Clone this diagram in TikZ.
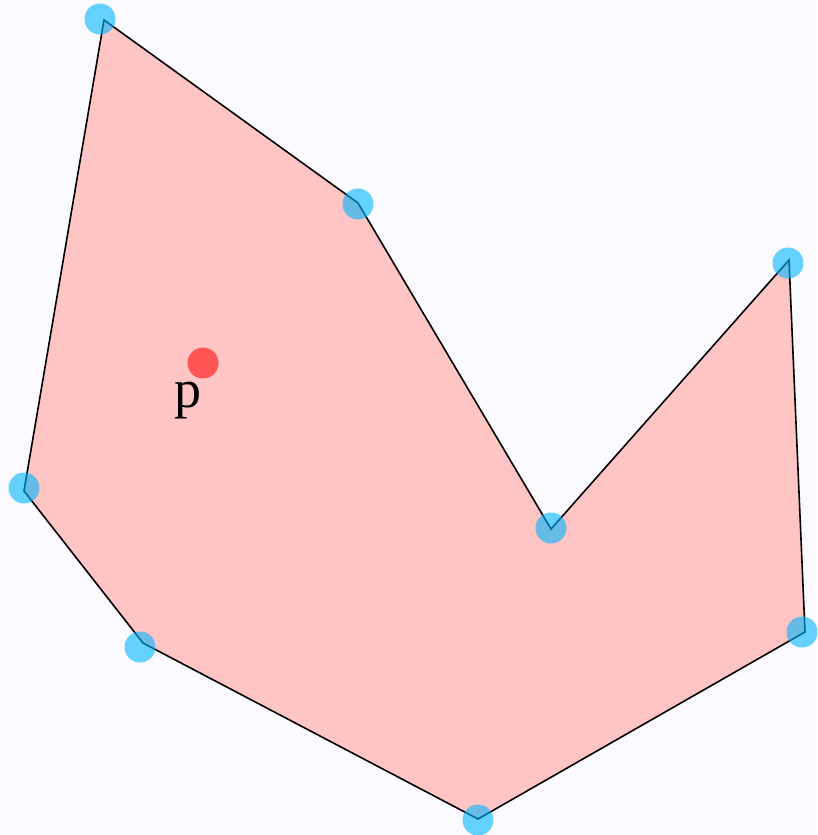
\documentclass[tikz,border=0pt]{standalone}
\usepackage{fontspec}
\usepackage{tikz}
\usetikzlibrary{positioning}
\newfontfamily\labelfont{Liberation Serif}
\definecolor{bgcol}{RGB}{251,251,255}
\definecolor{regioncol}{RGB}{255,196,196}
\definecolor{markcol}{RGB}{0,182,255}
\definecolor{querycol}{RGB}{255,85,85}

\begin{document}
\begin{tikzpicture}[
        x=1pt, y=-1pt,
        edge/.style={draw=black, line width=1.6pt, line join=miter},
        vertex/.style={circle, fill=markcol, fill opacity=0.6, inner sep=0pt, minimum size=31pt},
        query/.style={circle, fill=querycol, inner sep=0pt, minimum size=31pt},
        qlabel/.style={font=\labelfont\fontsize{54}{54}\selectfont, inner sep=0pt}
    ]
        % canvas
        \fill[bgcol] (0,0) rectangle (817,835);
        \useasboundingbox (0,0) rectangle (817,835);

        % polygon corners
        \coordinate (c1) at (104,20);
        \coordinate (c2) at (358,203);
        \coordinate (c3) at (551,529);
        \coordinate (c4) at (789,260);
        \coordinate (c5) at (805,632);
        \coordinate (c6) at (478,819);
        \coordinate (c7) at (143,643);
        \coordinate (c8) at (24,491);

        \fill[regioncol] (c1) -- (c2) -- (c3) -- (c4) -- (c5) -- (c6) -- (c7) -- (c8) -- cycle;
        \draw[edge] (c1) -- (c2) -- (c3) -- (c4) -- (c5) -- (c6) -- (c7) -- (c8) -- cycle;

        % vertex markers
        \node[vertex] (v1) at (100,19) {};
        \node[vertex] (v2) at (358,204) {};
        \node[vertex] (v3) at (551,528) {};
        \node[vertex] (v4) at (788,263) {};
        \node[vertex] (v5) at (802,632) {};
        \node[vertex] (v6) at (478,820) {};
        \node[vertex] (v7) at (140,647) {};
        \node[vertex] (v8) at (24,488) {};

        % query point
        \node[query] (p) at (203,363) {};
        \node[qlabel, below left=8pt and -10pt of p] (plabel) {p};
    \end{tikzpicture}
\end{document}
